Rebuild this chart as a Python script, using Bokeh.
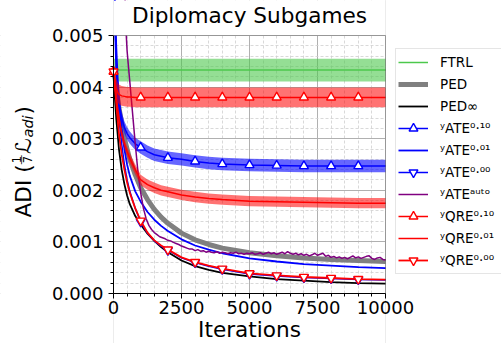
import math

from bokeh.plotting import figure
from bokeh.models import (FixedTicker, Range1d, Legend, LegendItem, Label,
                          BoxAnnotation, PrintfTickFormatter)
from bokeh.embed import file_html
from bokeh.resources import INLINE

FONT = "DejaVu Sans"

# ---------------------------------------------------------------- data
iterations = [0, 50, 100, 150, 200, 300, 400, 500, 600, 800, 1000, 1250, 1500,
              1750, 2000, 2500, 3000, 3500, 4000, 5000, 6000, 7000, 8000, 9000, 10000]

ftrl_level = 0.00433
ftrl_spread = 0.00022

ped = [0.0043, 0.0042, 0.0040, 0.0038, 0.0036, 0.0033, 0.0030, 0.0028, 0.0026,
       0.0023, 0.00205, 0.00182, 0.00163, 0.00148, 0.00136, 0.00117, 0.00104,
       0.00095, 0.00088, 0.00079, 0.00073, 0.00069, 0.00066, 0.00064, 0.00062]

ped_inf = [0.0043, 0.0038, 0.0034, 0.0031, 0.0028, 0.0024, 0.00212, 0.0019,
           0.00173, 0.0015, 0.00134, 0.00116, 0.00102, 0.0009, 0.0008, 0.00064,
           0.00053, 0.00046, 0.0004, 0.00033, 0.00028, 0.00025, 0.00022, 0.0002,
           0.00019]

ate_010 = [0.011, 0.0055, 0.0045, 0.0040, 0.0037, 0.0034, 0.00322, 0.0031,
           0.00302, 0.0029, 0.00283, 0.00275, 0.00269, 0.00266, 0.00263, 0.0026,
           0.00256, 0.00253, 0.00251, 0.00249, 0.00248, 0.00247, 0.00247,
           0.00247, 0.00247]
ate_010_spread = 0.00012

ate_001 = [0.010, 0.0058, 0.0048, 0.0042, 0.0038, 0.0032, 0.0028, 0.0025,
           0.00228, 0.00198, 0.00178, 0.00158, 0.00143, 0.00131, 0.00121,
           0.00105, 0.00093, 0.00085, 0.00078, 0.00068, 0.00062, 0.00057,
           0.00054, 0.00051, 0.00049]

ate_000 = [0.009, 0.0052, 0.0043, 0.0038, 0.0034, 0.0029, 0.0025, 0.0022,
           0.00198, 0.00165, 0.00139, 0.00117, 0.00102, 0.00092, 0.00084,
           0.00069, 0.0006, 0.00053, 0.00047, 0.00038, 0.00034, 0.00031,
           0.00029, 0.00027, 0.00026]

auto_iterations = [0, 200, 400, 450] + list(range(500, 10001, 100))
ate_auto = [0.03, 0.012, 0.0062, 0.0052,
            0.0047, 0.0041, 0.0035, 0.0029, 0.00235,
            0.00195, 0.00165, 0.00145, 0.00132, 0.00124, 0.00118, 0.00114, 0.0011, 0.00108, 0.00106,
            0.00103, 0.00102, 0.00099, 0.00097, 0.00095, 0.00092, 0.0009, 0.00088, 0.00086, 0.00086,
            0.00083, 0.00085, 0.00082, 0.00083, 0.0008, 0.00082, 0.0008, 0.00079, 0.00081, 0.00078,
            0.0008, 0.00079, 0.00077, 0.00079, 0.00078, 0.0008, 0.00077, 0.00078, 0.00076, 0.00078,
            0.00077, 0.00079, 0.00076, 0.00077, 0.00079, 0.00076, 0.00078, 0.0008, 0.00077, 0.00079,
            0.00076, 0.00078, 0.0008, 0.00077, 0.00081, 0.00078, 0.00076, 0.00078, 0.00075, 0.00077,
            0.00074, 0.00076, 0.00073, 0.00075, 0.00078, 0.00074, 0.00076, 0.00078, 0.00072, 0.00074,
            0.0007, 0.00072, 0.00069, 0.00071, 0.00068, 0.0007, 0.00067, 0.0007, 0.00073, 0.00069,
            0.00071, 0.00068, 0.0007, 0.00072, 0.00073, 0.00068, 0.00066, 0.00069, 0.0007, 0.00066,
            0.00065]

qre_010 = [0.0043, 0.0041, 0.00398, 0.0039, 0.00386, 0.00383, 0.00382, 0.00381,
           0.00381, 0.0038, 0.0038, 0.0038, 0.0038, 0.0038, 0.0038, 0.0038,
           0.0038, 0.0038, 0.0038, 0.0038, 0.0038, 0.0038, 0.0038, 0.0038, 0.0038]
qre_010_spread = 0.00019

qre_001 = [0.0043, 0.0041, 0.0038, 0.0036, 0.0034, 0.0031, 0.0029, 0.00275,
           0.00262, 0.0024, 0.0022, 0.00211, 0.00205, 0.002, 0.00197, 0.00191,
           0.00187, 0.00184, 0.00182, 0.00179, 0.00178, 0.00177, 0.00176,
           0.00175, 0.00175]
qre_001_spread = 0.0001

qre_000 = [0.0043, 0.0040, 0.0037, 0.0034, 0.0031, 0.0027, 0.0024, 0.00215,
           0.00195, 0.00165, 0.00141, 0.00118, 0.00103, 0.00093, 0.00085, 0.0007,
           0.00061, 0.00054, 0.00048, 0.00039, 0.00035, 0.00032, 0.0003,
           0.00028, 0.00027]

marker_iterations = [0, 1000, 2000, 3000, 4000, 5000, 6000, 7000, 8000, 9000]

x_ticks = [0, 2500, 5000, 7500, 10000]
x_minor = [t for t in range(0, 10001, 500) if t % 2500]
y_ticks = [0.0, 0.001, 0.002, 0.003, 0.004, 0.005]
y_minor = [round(i * 0.0002, 4) for i in range(26) if i % 5]

X_LIM = (0, 10000)
Y_LIM = (0.0, 0.005)

# ---------------------------------------------------------------- geometry
# The plotting frame fills the whole canvas; the axes box is placed inside it
# with fixed-location axes, so every text can live inside the frame.
W, H = 501, 343
BOX_L, BOX_R, BOX_T, BOX_B = 113, 385, 35, 293
dx = (X_LIM[1] - X_LIM[0]) / (BOX_R - BOX_L)
dy = (Y_LIM[1] - Y_LIM[0]) / (BOX_B - BOX_T)
x_min, x_max = X_LIM[0] - BOX_L * dx, X_LIM[1] + (W - BOX_R) * dx
y_min, y_max = Y_LIM[0] - (H - BOX_B) * dy, Y_LIM[1] + BOX_T * dy

p = figure(width=W, height=H, output_backend="svg", toolbar_location=None,
           x_range=Range1d(x_min, x_max), y_range=Range1d(y_min, y_max),
           min_border=0)
p.min_border_left = p.min_border_right = p.min_border_top = p.min_border_bottom = 0
p.background_fill_color = "white"
p.border_fill_color = "white"
p.outline_line_color = None

for ax in (p.xaxis[0], p.yaxis[0]):
    ax.fixed_location = 0
    ax.major_label_text_font = FONT
    ax.major_label_text_font_size = "18px"
    ax.major_label_text_color = "black"
    ax.axis_line_color = "black"
    ax.major_tick_line_color = "black"
    ax.minor_tick_line_color = "black"
    ax.major_tick_out = 5
    ax.major_tick_in = 0
    ax.minor_tick_out = 3
    ax.minor_tick_in = 0
p.xaxis.bounds = X_LIM
p.yaxis.bounds = Y_LIM
p.xaxis.ticker = FixedTicker(ticks=x_ticks, minor_ticks=x_minor)
p.yaxis.ticker = FixedTicker(ticks=y_ticks, minor_ticks=y_minor)
p.xaxis.formatter = PrintfTickFormatter(format="%d")
p.yaxis.formatter = PrintfTickFormatter(format="%.3f")
p.xaxis.major_label_standoff = 2
p.yaxis.major_label_standoff = 5

for g in (p.xgrid[0], p.ygrid[0]):
    g.grid_line_color = "#b0b0b0"
    g.grid_line_width = 1
    g.minor_grid_line_color = "#cfcfcf"
    g.minor_grid_line_dash = "3 2"
    g.minor_grid_line_width = 0.8


def mask(left, right, bottom, top, level):
    p.add_layout(BoxAnnotation(left=left, right=right, bottom=bottom, top=top,
                               fill_color="white", fill_alpha=1,
                               line_color=None, level=level))


# keep the grid inside the axes box
mask(x_min, X_LIM[0], y_min, y_max, "underlay")
mask(X_LIM[1], x_max, y_min, y_max, "underlay")
mask(X_LIM[0], X_LIM[1], y_min, Y_LIM[0], "underlay")


def band(center, spread, color, alpha):
    p.varea(x=iterations, y1=[c - spread for c in center],
            y2=[c + spread for c in center], fill_color=color, fill_alpha=alpha)


def markers(values, marker, color):
    ys = [values[iterations.index(t)] for t in marker_iterations]
    return p.scatter(marker_iterations, ys, marker=marker, size=9,
                     fill_color="white", line_color=color, line_width=1.4)


GREEN = "#4cc84c"
RED = "#ff0000"
BLUE = "#0000ff"

ftrl_values = [ftrl_level for _ in iterations]
band(ftrl_values, ftrl_spread, GREEN, 0.6)
r_ftrl = p.line(iterations, ftrl_values, line_color=GREEN, line_width=1.5)

r_ped = p.line(iterations, ped, line_color="#808080", line_width=5)
r_pedinf = p.line(iterations, ped_inf, line_color="black", line_width=1.8)

band(ate_010, ate_010_spread, BLUE, 0.6)
r_a10 = p.line(iterations, ate_010, line_color=BLUE, line_width=1.5)
m_a10 = markers(ate_010, "triangle", BLUE)

r_a01 = p.line(iterations, ate_001, line_color=BLUE, line_width=1.8)

r_a00 = p.line(iterations, ate_000, line_color=BLUE, line_width=1.5)
m_a00 = markers(ate_000, "inverted_triangle", BLUE)

r_auto = p.line(auto_iterations, ate_auto, line_color="#800080", line_width=1.5)

band(qre_010, qre_010_spread, RED, 0.55)
r_q10 = p.line(iterations, qre_010, line_color=RED, line_width=1.5)
m_q10 = markers(qre_010, "triangle", RED)

band(qre_001, qre_001_spread, RED, 0.55)
r_q01 = p.line(iterations, qre_001, line_color=RED, line_width=1.5)

r_q00 = p.line(iterations, qre_000, line_color=RED, line_width=1.8)
m_q00 = markers(qre_000, "inverted_triangle", RED)

# curves leaving the top of the axes box are hidden above it
mask(X_LIM[0], X_LIM[1], Y_LIM[1], y_max, "annotation")
# axes box outline
p.add_layout(BoxAnnotation(left=X_LIM[0], right=X_LIM[1], bottom=Y_LIM[0],
                           top=Y_LIM[1], fill_alpha=0, line_color="black",
                           line_width=1, level="annotation"))

DESCENT = 0.236  # DejaVu Sans descent, in em


def label(text, x, y, size, align="left", rotated=False, style="normal"):
    # x, y: pixel position of the text baseline from the canvas' top-left;
    # the label is anchored at the bottom of its text box
    shift = DESCENT * size
    if rotated:
        x, angle = x + shift, math.pi / 2
    else:
        y, angle = y + shift, 0.0
    p.add_layout(Label(text=text, x=x, y=H - y, x_units="screen", y_units="screen",
                       angle=angle, text_font=FONT, text_font_size=f"{size}px",
                       text_font_style=style, text_color="black",
                       text_align=align, text_baseline="bottom",
                       text_line_height=1.0))


label("Diplomacy Subgames", 249, 22, 21.6, align="center")
label("Iterations", 249, 336, 21.6, align="center")

# y-axis title: ADI (1/7 L_adi), read bottom to top
label("ADI (", 30, 217, 21.6, rotated=True)
label("1", 18.3, 162.8, 11.4, rotated=True)
label("7", 29, 162.8, 11.4, rotated=True)
label("—", 23, 164.2, 10, rotated=True)
label("ℒ", 30, 153.4, 21.6, rotated=True)
label("adi", 32, 137, 14.5, rotated=True, style="italic")
label(")", 30, 114, 21.6, rotated=True)

# ---------------------------------------------------------------- legend
legend = Legend(items=[
    LegendItem(label="FTRL", renderers=[r_ftrl]),
    LegendItem(label="PED", renderers=[r_ped]),
    LegendItem(label="PED∞", renderers=[r_pedinf]),
    LegendItem(label="ʸATE⁰·¹⁰", renderers=[r_a10, m_a10]),
    LegendItem(label="ʸATE⁰·⁰¹", renderers=[r_a01]),
    LegendItem(label="ʸATE⁰·⁰⁰", renderers=[r_a00, m_a00]),
    LegendItem(label="ʸATEᵃᵘᵗᵒ", renderers=[r_auto]),
    LegendItem(label="ʸQRE⁰·¹⁰", renderers=[r_q10, m_q10]),
    LegendItem(label="ʸQRE⁰·⁰¹", renderers=[r_q01]),
    LegendItem(label="ʸQRE⁰·⁰⁰", renderers=[r_q00, m_q00]),
], location=(395, 69), padding=2, margin=0, spacing=0,
    glyph_width=30, glyph_height=22, label_height=22, label_standoff=12,
    label_width=60,
    label_text_font=FONT, label_text_font_size="13.5px",
    label_text_color="black",
    border_line_color="#cccccc", border_line_width=1,
    background_fill_color="white", background_fill_alpha=1)
p.add_layout(legend)

open("out.html", "w").write(file_html(p, INLINE))
